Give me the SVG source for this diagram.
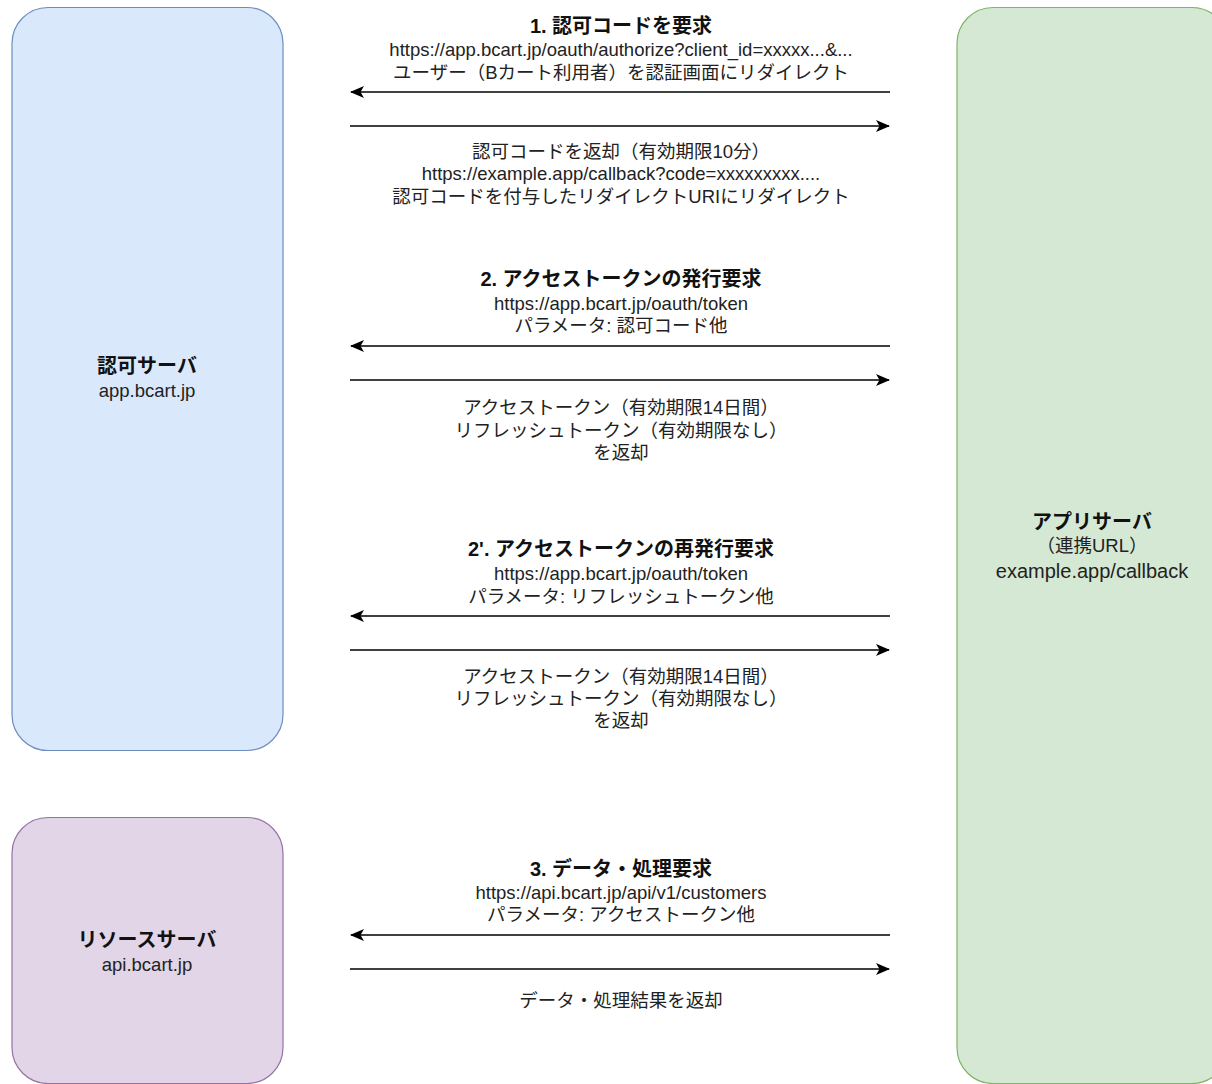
<svg xmlns="http://www.w3.org/2000/svg" width="1212" height="1084" viewBox="0 0 1212 1084">
<defs>
<marker id="arr" viewBox="0 0 14 12" refX="13" refY="6" markerWidth="14" markerHeight="12" markerUnits="userSpaceOnUse" orient="auto-start-reverse">
<path d="M0,0 L14,6 L0,12 L3.5,6 Z" fill="#000"/>
</marker>
<style>
text{font-family:"Liberation Sans","Noto Sans CJK JP",Arial,sans-serif;text-anchor:middle;fill:#222}
.t{font-size:20px;font-weight:bold;fill:#111}
.n{font-size:18.5px}
.c{stroke:#000;stroke-width:1.7;fill:none}
</style>
</defs>
<rect width="1212" height="1084" fill="#fff"/>
<g id="auth-server">
<rect x="12" y="7.5" width="271" height="743" rx="36" ry="36" fill="#dae8fc" stroke="#6c8ebf" stroke-width="1.2"/>
<text class="t" x="147" y="373">認可サーバ</text>
<text class="n" x="147" y="397">app.bcart.jp</text>
</g>
<g id="resource-server">
<rect x="12" y="817.5" width="271" height="266" rx="36" ry="36" fill="#e1d5e7" stroke="#9673a6" stroke-width="1.2"/>
<text class="t" x="147" y="947">リソースサーバ</text>
<text class="n" x="147" y="971">api.bcart.jp</text>
</g>
<g id="app-server">
<rect x="957" y="7.5" width="271" height="1076" rx="36" ry="36" fill="#d5e8d4" stroke="#82b366" stroke-width="1.2"/>
<text class="t" x="1092" y="529">アプリサーバ</text>
<text class="n" x="1092" y="552">（連携URL）</text>
<text class="n" x="1092" y="578" style="font-size:20px">example.app/callback</text>
</g>
<g id="connectors">
<line class="c" x1="890" y1="92" x2="351" y2="92" marker-end="url(#arr)"/>
<line class="c" x1="350" y1="126" x2="889" y2="126" marker-end="url(#arr)"/>
<line class="c" x1="890" y1="346" x2="351" y2="346" marker-end="url(#arr)"/>
<line class="c" x1="350" y1="380" x2="889" y2="380" marker-end="url(#arr)"/>
<line class="c" x1="890" y1="616" x2="351" y2="616" marker-end="url(#arr)"/>
<line class="c" x1="350" y1="650" x2="889" y2="650" marker-end="url(#arr)"/>
<line class="c" x1="890" y1="935" x2="351" y2="935" marker-end="url(#arr)"/>
<line class="c" x1="350" y1="969" x2="889" y2="969" marker-end="url(#arr)"/>
</g>
<g id="labels">
<text class="t" x="621" y="33">1. 認可コードを要求</text>
<text class="n" x="621" y="56">https://app.bcart.jp/oauth/authorize?client_id=xxxxx...&amp;...</text>
<text class="n" x="621" y="79">ユーザー（Bカート利用者）を認証画面にリダイレクト</text>
<text class="n" x="621" y="158">認可コードを返却（有効期限10分）</text>
<text class="n" x="621" y="180">https://example.app/callback?code=xxxxxxxxx....</text>
<text class="n" x="621" y="203">認可コードを付与したリダイレクトURIにリダイレクト</text>
<text class="t" x="621" y="286">2. アクセストークンの発行要求</text>
<text class="n" x="621" y="310">https://app.bcart.jp/oauth/token</text>
<text class="n" x="621" y="332">パラメータ: 認可コード他</text>
<text class="n" x="621" y="414">アクセストークン（有効期限14日間）</text>
<text class="n" x="621" y="437">リフレッシュトークン（有効期限なし）</text>
<text class="n" x="621" y="459">を返却</text>
<text class="t" x="621" y="556">2'. アクセストークンの再発行要求</text>
<text class="n" x="621" y="580">https://app.bcart.jp/oauth/token</text>
<text class="n" x="621" y="603">パラメータ: リフレッシュトークン他</text>
<text class="n" x="621" y="683">アクセストークン（有効期限14日間）</text>
<text class="n" x="621" y="705">リフレッシュトークン（有効期限なし）</text>
<text class="n" x="621" y="727">を返却</text>
<text class="t" x="621" y="876">3. データ・処理要求</text>
<text class="n" x="621" y="899">https://api.bcart.jp/api/v1/customers</text>
<text class="n" x="621" y="921">パラメータ: アクセストークン他</text>
<text class="n" x="621" y="1007">データ・処理結果を返却</text>
</g>
</svg>
